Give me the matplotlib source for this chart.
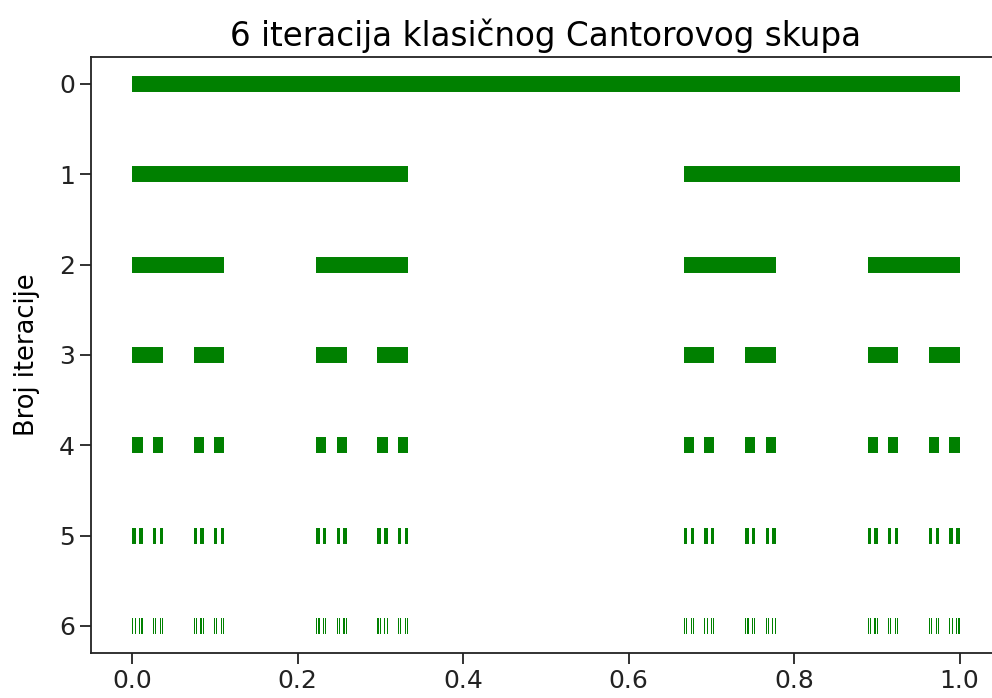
import matplotlib
matplotlib.use("Agg")
import matplotlib.pyplot as plt

# left endpoints of the kept intervals, as numerators over 3**level
starts_0 = [0]
starts_1 = [0, 2]
starts_2 = [0, 2, 6, 8]
starts_3 = [0, 2, 6, 8, 18, 20, 24, 26]
starts_4 = [0, 2, 6, 8, 18, 20, 24, 26, 54, 56, 60, 62, 72, 74, 78, 80]
starts_5 = [0, 2, 6, 8, 18, 20, 24, 26, 54, 56, 60, 62, 72, 74, 78, 80,
            162, 164, 168, 170, 180, 182, 186, 188,
            216, 218, 222, 224, 234, 236, 240, 242]
starts_6 = [0, 2, 6, 8, 18, 20, 24, 26, 54, 56, 60, 62, 72, 74, 78, 80,
            162, 164, 168, 170, 180, 182, 186, 188,
            216, 218, 222, 224, 234, 236, 240, 242,
            486, 488, 492, 494, 504, 506, 510, 512,
            540, 542, 546, 548, 558, 560, 564, 566,
            648, 650, 654, 656, 666, 668, 672, 674,
            702, 704, 708, 710, 720, 722, 726, 728]
levels = [0, 1, 2, 3, 4, 5, 6]
denominators = [1, 3, 9, 27, 81, 243, 729]
all_starts = [starts_0, starts_1, starts_2, starts_3, starts_4, starts_5, starts_6]

title = "6 iteracija klasičnog Cantorovog skupa"
ylabel = "Broj iteracije"

plt.rcParams["font.family"] = ["DejaVu Sans"]

fig = plt.figure(figsize=(9.92, 6.98), dpi=100)
ax = fig.add_axes([0.0917, 0.0645, 0.9173, 0.854])

for level, den, starts in zip(levels, denominators, all_starts):
    xmin = [s / den for s in starts]
    xmax = [(s + 1) / den for s in starts]
    ax.hlines([level] * len(starts), xmin, xmax, colors="green", linewidth=11.5)

ax.set_xlim(-0.05, 1.05)
ax.set_ylim(6.3, -0.3)
ax.set_yticks(levels)
ax.set_xticks([0.0, 0.2, 0.4, 0.6, 0.8, 1.0])

ax.set_title(title, fontsize=23.5, pad=8)
ax.set_ylabel(ylabel, fontsize=18.5, labelpad=14)
ax.tick_params(labelsize=18, length=8, width=1.3, colors="#222222")
for sp in ax.spines.values():
    sp.set_linewidth(1.3)
    sp.set_color("#222222")

fig.savefig("out.png", dpi=100)
